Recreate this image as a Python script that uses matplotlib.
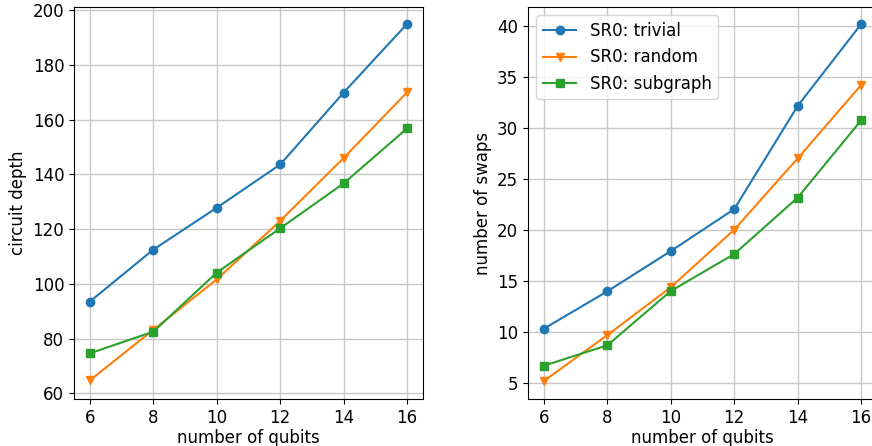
import matplotlib.pyplot as plt

# Dane
qubits = [6, 8, 10, 12, 14, 16]

depth_trivial = [93.5, 112.5, 127.8, 143.6, 169.9, 195.0]
depth_random = [64.7, 83.2, 101.6, 123.0, 146.0, 170.0]
depth_subgraph = [74.6, 82.5, 104.1, 120.3, 136.7, 156.8]

swaps_trivial = [10.33, 14.0, 17.95, 22.07, 32.2, 40.23]
swaps_random = [5.2, 9.7, 14.4, 20.05, 27.05, 34.25]
swaps_subgraph = [6.7, 8.7, 14.03, 17.66, 23.2, 30.78]

labels = ['SR0: trivial', 'SR0: random', 'SR0: subgraph']
markers = ['o', 'v', 's']

plt.rcParams['font.size'] = 12

fig = plt.figure(figsize=(8.72, 4.46), dpi=100)
ax1 = fig.add_axes([0.0849, 0.1054, 0.4002, 0.8786])
ax2 = fig.add_axes([0.6055, 0.1054, 0.4002, 0.8786])

for series, lab, m in zip([depth_trivial, depth_random, depth_subgraph], labels, markers):
    ax1.plot(qubits, series, marker=m, label=lab)
ax1.set_xlabel('number of qubits', labelpad=2)
ax1.set_ylabel('circuit depth', labelpad=4)
ax1.set_xticks(qubits)
ax1.set_ylim(57.9, 201.1)
ax1.grid(True, color='#c8c8c8', linewidth=1.0)

for series, lab, m in zip([swaps_trivial, swaps_random, swaps_subgraph], labels, markers):
    ax2.plot(qubits, series, marker=m, label=lab)
ax2.set_xlabel('number of qubits', labelpad=2)
ax2.set_ylabel('number of swaps', labelpad=4)
ax2.set_xticks(qubits)
ax2.set_ylim(3.43, 41.9)
ax2.grid(True, color='#c8c8c8', linewidth=1.0)
ax2.legend(loc='upper left')

fig.savefig('out.png', dpi=100)
